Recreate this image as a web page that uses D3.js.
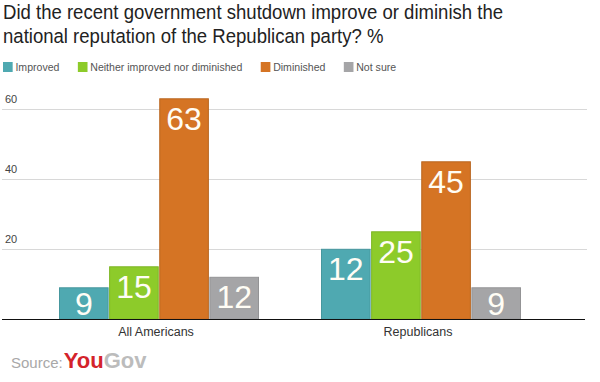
<!DOCTYPE html>
<html><head><meta charset="utf-8">
<script src="https://cdn.jsdelivr.net/npm/d3@7"></script>
<style>
html,body{margin:0;padding:0;background:#fff;}
svg{display:block;font-family:"Liberation Sans",Arial,sans-serif;}
</style></head>
<body><svg id="c" width="600" height="382"></svg>
<script>
const titleLines = ["Did the recent government shutdown improve or diminish the","national reputation of the Republican party? %"];
const groups = ["All Americans","Republicans"];
const series = ["Improved","Neither improved nor diminished","Diminished","Not sure"];
const colors = ["#4fa9b1","#8dcb2a","#d57424","#a5a5a7"];
const strokes = ["#46979e","#7db524","#b9651f","#939395"];
// bar heights as drawn in the reference
const allAmericans = [9,15,63,12];
const republicans = [20,25,45,9];
// value labels as printed in the reference
const allAmericansLabels = ["9","15","63","12"];
const republicansLabels = ["12","25","45","9"];
const yTicks = [20,40,60];

const svg = d3.select("#c");
const data = [allAmericans, republicans];
const labels = [allAmericansLabels, republicansLabels];

// title (reference type is horizontally condensed)
svg.append("g").attr("transform","scale(0.905,1)")
  .selectAll("text").data(titleLines).join("text")
  .attr("x",3/0.905).attr("y",(d,i)=>19+i*24)
  .attr("font-size",20.5).attr("fill","#222").text(d=>d);

// legend
const lg = svg.append("g").attr("transform","translate(3,0) scale(0.92,1)");
let lx = 0;
series.forEach((s,i)=>{
  lg.append("rect").attr("x",lx).attr("y",62).attr("width",10.5).attr("height",10).attr("fill",colors[i]);
  const t = lg.append("text").attr("x",lx+13.5).attr("y",71.5).attr("font-size",11.5).attr("fill","#555").text(s);
  lx += 13.5 + t.node().getComputedTextLength() + 20;
});

const y = d3.scaleLinear().domain([0,70]).range([319.3,74.3]);
const x0 = d3.scaleBand().domain(groups).range([28,552]);
const x1 = d3.scaleBand().domain(series).range([x0.bandwidth()/2-100, x0.bandwidth()/2+100]).paddingInner(0.01);

// gridlines
svg.append("g").selectAll("line").data(yTicks).join("line")
  .attr("x1",2).attr("x2",587).attr("y1",d=>Math.round(y(d))+0.5).attr("y2",d=>Math.round(y(d))+0.5)
  .attr("stroke","#d8d8d8").attr("stroke-width",1);
svg.append("g").selectAll("text").data(yTicks).join("text")
  .attr("x",5).attr("y",d=>y(d)-6).attr("font-size",11).attr("fill","#444").text(d=>d);

// bars
const gg = svg.append("g").selectAll("g").data(groups).join("g")
  .attr("transform",d=>`translate(${x0(d)},0)`);
gg.each(function(g,gi){
  const sel = d3.select(this);
  series.forEach((s,si)=>{
    const v = data[gi][si];
    sel.append("rect").attr("x",x1(s)+0.5).attr("y",y(v)).attr("width",x1.bandwidth()-1).attr("height",y(0)-y(v))
      .attr("fill",colors[si]).attr("stroke",strokes[si]).attr("stroke-width",1);
    sel.append("text").attr("x",x1(s)+x1.bandwidth()/2).attr("y",Math.min(y(v)+31,315))
      .attr("text-anchor","middle").attr("font-size",32).attr("fill","#fffdf5").text(labels[gi][si]);
  });
});

// baseline
svg.append("line").attr("x1",2).attr("x2",585).attr("y1",319.5).attr("y2",319.5).attr("stroke","#111").attr("stroke-width",1.2);

// category labels
svg.append("g").selectAll("text").data(groups).join("text")
  .attr("x",d=>x0(d)+x0.bandwidth()/2-3).attr("y",336).attr("text-anchor","middle")
  .attr("font-size",12.5).attr("fill","#333").text(d=>d);

// source
const src = svg.append("text").attr("x",11).attr("y",368);
src.append("tspan").attr("font-size",15).attr("fill","#a8a8a8").text("Source:");
src.append("tspan").attr("font-size",22).attr("font-weight","bold").attr("fill","#d4232b").attr("dx",1).text("You");
src.append("tspan").attr("font-size",22).attr("font-weight","bold").attr("fill","#bcbcbc").text("Gov");
</script></body></html>
